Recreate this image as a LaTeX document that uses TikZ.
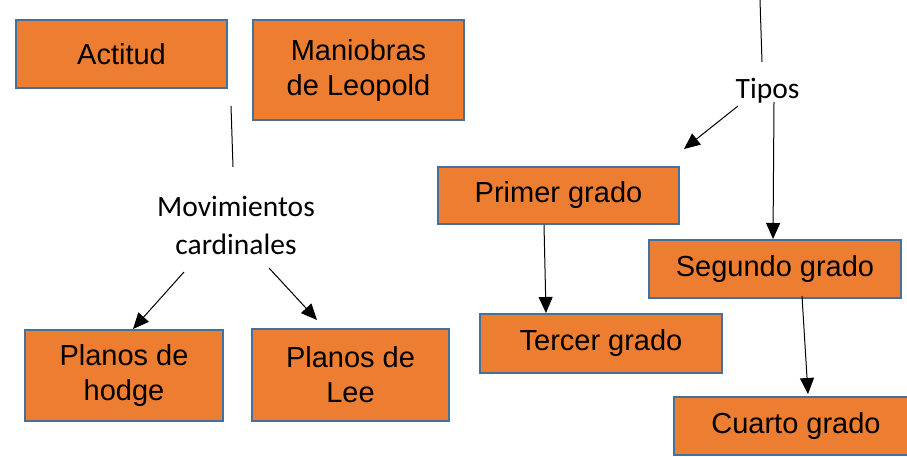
\documentclass[tikz,border=0pt]{standalone}
\usepackage{fontspec}
\setmainfont{Liberation Sans}
\newfontfamily\calfont{Carlito}
\usetikzlibrary{arrows.meta}
\definecolor{boxfill}{HTML}{ED7D31}
\definecolor{boxline}{HTML}{41719C}
\begin{document}
\begin{tikzpicture}[x=1pt,y=-1pt,
  box/.style={draw=boxline,fill=boxfill,line width=2pt,align=center,inner sep=0pt,
    font=\fontsize{29}{35}\selectfont},
  lbl/.style={align=center,inner sep=0pt,font=\calfont\fontsize{29.5}{38}\selectfont},
  conn/.style={line width=1pt,draw=black},
  arr/.style={conn,-{Triangle[length=16pt,width=14pt]}}]
\useasboundingbox (0,0) rectangle (907,457);
% boxes
\node[box,minimum width=211pt,minimum height=68pt] (act) at (121.5,54) {Actitud};
\node[box,minimum width=211pt,minimum height=100pt] (man) at (358.5,70.5) {Maniobras\\de Leopold};
\node[box,minimum width=198pt,minimum height=91pt] (hod) at (124,375.5) {Planos de\\hodge};
\node[box,minimum width=197pt,minimum height=92pt] (lee) at (350.5,375) {Planos de\\Lee};
\node[box,minimum width=241pt,minimum height=57pt] (pri) at (558.5,195.5) {Primer grado};
\node[box,minimum width=252pt,minimum height=58pt] (seg) at (775,269) {Segundo grado};
\node[box,minimum width=242pt,minimum height=59pt] (ter) at (601,343.5) {Tercer grado};
\node[box,minimum width=244pt,minimum height=58pt] (cua) at (796,426) {Cuarto grado};
% labels
\node[lbl] (mov) at (236,225) {Movimientos\\cardinales};
\node[lbl,anchor=base] (tip) at (767.5,99) {Tipos};
% free ends
\coordinate (m0) at (231,106);
\coordinate (m1) at (233,167);
\coordinate (mL) at (184,272);
\coordinate (mR) at (269,268);
\coordinate (t0) at (760,0);
\coordinate (t1) at (762,62);
\coordinate (tL) at (738,106);
\coordinate (tD) at (774,102);
% connectors
\draw[conn] (m0) -- (m1);
\draw[arr] (mL) -- ([xshift=9pt]hod.north);
\draw[arr] (mR) -- ([xshift=-33.5pt,yshift=8pt]lee.north);
\draw[conn] (t0) -- (t1);
\draw[arr] (tL) -- ([xshift=4pt,yshift=17pt]pri.north east);
\draw[arr] (tD) -- ([xshift=-2pt]seg.north);
\draw[arr] ([xshift=-14.5pt]pri.south) -- ([xshift=-55pt]ter.north);
\draw[arr] ([xshift=27pt,yshift=3pt]seg.south) -- ([xshift=12pt,yshift=2pt]cua.north);
\end{tikzpicture}
\end{document}
